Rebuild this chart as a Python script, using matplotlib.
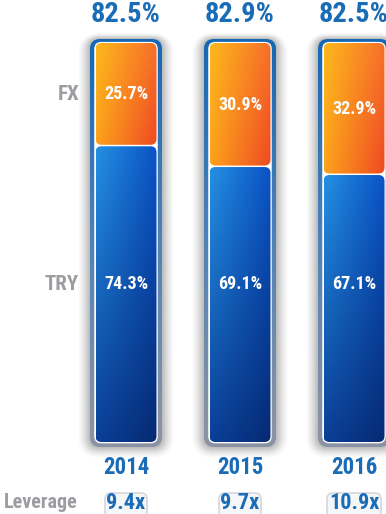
import numpy as np
import matplotlib

matplotlib.use("Agg")
import matplotlib.pyplot as plt
from matplotlib import font_manager
from matplotlib.patches import FancyBboxPatch
from matplotlib.colors import to_rgb

# data
years = ["2014", "2015", "2016"]
totals = ["82.5%", "82.9%", "82.5%"]
fx_share = [25.7, 30.9, 32.9]
try_share = [74.3, 69.1, 67.1]
leverage = ["9.4x", "9.7x", "10.9x"]

# pick a narrow bold face if one is installed
names = {(f.name, f.stretch) for f in font_manager.fontManager.ttflist}
FONT = dict(family=["DejaVu Sans"], fontstretch="normal")
for fam, stretch in [("Liberation Sans Narrow", "normal"),
                     ("Liberation Sans Narrow", "condensed"),
                     ("Roboto Condensed", "normal"),
                     ("DejaVu Sans", "condensed"),
                     ("DejaVu Sans", "semi-condensed")]:
    if any(n == fam and (s == stretch or fam != "DejaVu Sans") for n, s in names):
        FONT = dict(family=[fam, "DejaVu Sans"], fontstretch=stretch)
        break

W, H = 386, 514
fig = plt.figure(figsize=(W / 100, H / 100), dpi=100)
ax = fig.add_axes([0, 0, 1, 1])
ax.axis("off")

# layout: bar centres 114 px apart, 0..100 % spans inner bar height
PX_X = 114.0
PX_Y = 3.99
x0_px, y0_px = 126.0, 72.0
ax.set_xlim(-x0_px / PX_X, (W - x0_px) / PX_X)
ax.set_ylim(-y0_px / PX_Y, (H - y0_px) / PX_Y)
ASPECT = PX_X / PX_Y

BLUE_TXT = "#1a6cb6"
GRAY_TXT = "#9b9da1"


def px_w(p):
    return p / PX_X


def px_h(p):
    return p / PX_Y


def y_of(px_from_top):
    return (H - px_from_top - y0_px) / PX_Y


def txt(x, y, s, **kw):
    kw.setdefault("fontweight", "bold")
    kw.setdefault("ha", "center")
    kw.setdefault("va", "center")
    return ax.text(x, y, s, **FONT, **kw)


def grad(c_tl, c_tr, c_bl, c_br, n=64):
    tl, tr, bl, br = (np.array(to_rgb(c)) for c in (c_tl, c_tr, c_bl, c_br))
    u = np.linspace(0, 1, n)[None, :, None]
    v = np.linspace(0, 1, n)[:, None, None]
    top = tl * (1 - u) + tr * u
    bot = bl * (1 - u) + br * u
    return top * (1 - v) + bot * v


def rbox(x, y, w, h, r_px, **kw):
    p = FancyBboxPatch((x, y), w, h,
                       boxstyle=f"round,pad=0,rounding_size={px_w(r_px)}",
                       mutation_aspect=ASPECT, **kw)
    ax.add_patch(p)
    return p


def filled(x, y, w, h, r_px, img, z):
    p = rbox(x, y, w, h, r_px, facecolor="none", edgecolor="none", zorder=z)
    im = ax.imshow(img, extent=(x, x + w, y, y + h), origin="upper",
                   aspect="auto", interpolation="bilinear", zorder=z)
    im.set_clip_path(p)


# frame colour: blue on top, steel grey toward the bottom
fb, fm, fg = (np.array(to_rgb(c)) for c in ("#1668b4", "#4f82b8", "#8a93a4"))
v = np.linspace(0, 1, 128)
t1 = np.clip(v / 0.5, 0, 1)[:, None]
t2 = np.clip((v - 0.5) / 0.45, 0, 1)[:, None]
col = np.where((v < 0.5)[:, None], fb * (1 - t1) + fm * t1, fm * (1 - t2) + fg * t2)
frame = np.repeat(col[:, None, :], 4, axis=1)

outer_w, white_w, inner_w = px_w(72), px_w(63.5), px_w(61)
pad_top, pad_bot = px_h(4), px_h(5)
gap = px_h(1.5)

for i, (fx, tr) in enumerate(zip(fx_share, try_share)):
    xo = i - outer_w / 2
    yo, ho = -pad_bot, 100 + pad_top + pad_bot
    # soft shadow
    for k, a in zip(range(12, 0, -1), np.linspace(0.015, 0.07, 12)):
        rbox(xo - px_w(k), yo - px_h(k * 0.9), outer_w + px_w(2 * k), ho + px_h(1.4 * k),
             10 + k, facecolor="#6a6a6a", edgecolor="none", alpha=a, zorder=1)
    filled(xo, yo, outer_w, ho, 10, frame, 2)
    rbox(i - white_w / 2, -px_h(1.3), white_w, 100 + px_h(2.4), 7,
         facecolor="white", edgecolor="none", zorder=3)

    xi = i - inner_w / 2
    # TRY (bottom)
    filled(xi, 0, inner_w, tr - gap / 2, 6,
           grad("#2590e2", "#0a52c6", "#0a3f98", "#062a72"), 4)
    # FX (top)
    filled(xi, tr + gap / 2, inner_w, fx - gap / 2, 6,
           grad("#fdb81c", "#f7702a", "#fca21c", "#ef4a22"), 4)

    txt(i, tr + fx / 2, f"{fx}%", color="white", fontsize=13, zorder=6)
    txt(i, y_of(284), f"{tr}%", color="white", fontsize=13, zorder=6)

    txt(i, y_of(15), totals[i], color=BLUE_TXT, fontsize=20.5)
    txt(i, y_of(468), years[i], color=BLUE_TXT, fontsize=16.5)

    lw = px_w(42) if len(leverage[i]) < 5 else px_w(54)
    rbox(i - lw / 2, y_of(523), lw, px_h(30), 6, facecolor="#f5f6f7",
         edgecolor="#d5d7da", linewidth=1.2, zorder=2)
    txt(i, y_of(503), leverage[i], color=BLUE_TXT, fontsize=16, zorder=3)

lab_x = (79 - x0_px) / PX_X
txt(lab_x, try_share[0] + fx_share[0] / 2, "FX", ha="right", color=GRAY_TXT, fontsize=15)
txt(lab_x, y_of(284), "TRY", ha="right", color=GRAY_TXT, fontsize=15)
txt((78 - x0_px) / PX_X, y_of(502), "Leverage", ha="right", color=GRAY_TXT, fontsize=14.5)

fig.savefig("out.png", dpi=100)
